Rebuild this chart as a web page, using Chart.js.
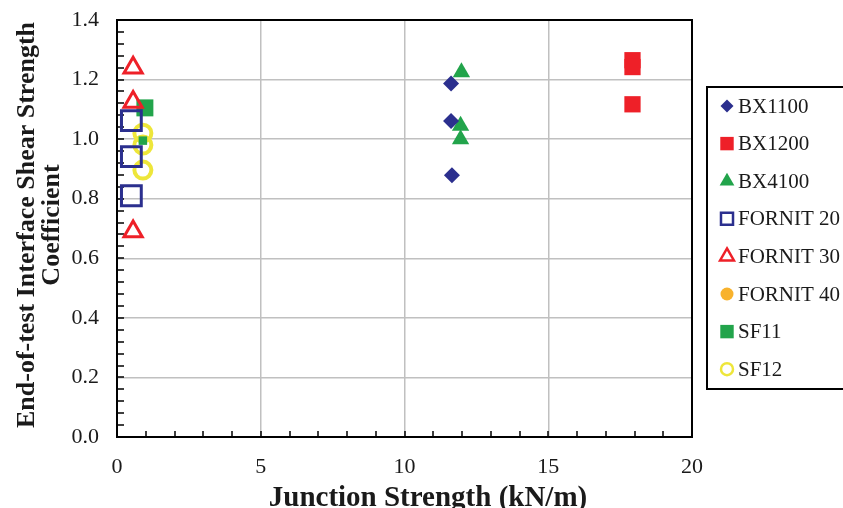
<!DOCTYPE html>
<html>
<head>
<meta charset="utf-8">
<script src="https://cdn.jsdelivr.net/npm/chart.js@4.4.1/dist/chart.umd.min.js"></script>
<style>
  html, body { margin: 0; padding: 0; background: #ffffff; }
  canvas { display: block; }
</style>
</head>
<body>
<canvas id="chart" width="843" height="508"></canvas>
<script>
// Junction strength (kN/m) vs end-of-test interface shear strength coefficient
const seriesNames = ['BX1100', 'BX1200', 'BX4100', 'FORNIT 20', 'FORNIT 30', 'FORNIT 40', 'SF11', 'SF12'];

const bx1100X = [11.62, 11.62, 11.65];
const bx1100Y = [1.187, 1.061, 0.879];

const bx1200X = [17.93, 17.93, 17.93];
const bx1200Y = [1.265, 1.242, 1.117];

const bx4100X = [11.98, 11.95, 11.95];
const bx4100Y = [1.225, 1.045, 1.0];

const fornit20X = [0.5, 0.5, 0.5];
const fornit20Y = [1.062, 0.941, 0.81];

const fornit30X = [0.56, 0.56, 0.56];
const fornit30Y = [1.24, 1.125, 0.69];

const fornit40X = [];
const fornit40Y = [];

const sf11X = [0.9, 0.97];
const sf11Y = [0.995, 1.105];

const sf12X = [0.9, 0.9, 0.9];
const sf12Y = [1.02, 0.98, 0.896];

const xTickLabels = ['0', '5', '10', '15', '20'];
const yTickLabels = ['0.0', '0.2', '0.4', '0.6', '0.8', '1.0', '1.2', '1.4'];

const NAVY = '#2B2F8E';
const RED = '#EE2028';
const GREEN = '#22A44B';
const ORANGE = '#F8B22C';
const YELLOW = '#EEE63A';
const SERIF = '"Liberation Serif", "Times New Roman", serif';

const pts = (xs, ys) => xs.map((x, i) => ({ x: x, y: ys[i] }));

// marker styles: plot size and legend size
const styles = [
  { style: 'rectRot',  fill: NAVY,   stroke: NAVY,   bw: 0,   r: 8,    lr: 6.5 },
  { style: 'rect',     fill: RED,    stroke: RED,    bw: 0,   r: 11.5, lr: 9.5 },
  { style: 'triangle', fill: GREEN,  stroke: GREEN,  bw: 0,   r: 10,   lr: 8.5 },
  { style: 'rect',     fill: 'rgba(0,0,0,0)', stroke: NAVY, bw: 3, r: 14, lr: 8.5, lbw: 2.5 },
  { style: 'triangle', fill: 'rgba(0,0,0,0)', stroke: RED,  bw: 3, r: 10.5, lr: 8, lbw: 2.5 },
  { style: 'circle',   fill: ORANGE, stroke: ORANGE, bw: 0,   r: 8,    lr: 6.5 },
  { style: 'rect',     fill: GREEN,  stroke: GREEN,  bw: 0,   r: (c) => (c.dataIndex === 0 ? 6 : 12), lr: 9.5 },
  { style: 'circle',   fill: 'rgba(0,0,0,0)', stroke: YELLOW, bw: 4, r: 8.5, lr: 6, lbw: 2.5 }
];

const seriesData = [
  pts(bx1100X, bx1100Y),
  pts(bx1200X, bx1200Y),
  pts(bx4100X, bx4100Y),
  pts(fornit20X, fornit20Y),
  pts(fornit30X, fornit30Y),
  pts(fornit40X, fornit40Y),
  pts(sf11X, sf11Y),
  pts(sf12X, sf12Y)
];

const datasets = seriesNames.map((name, i) => ({
  label: name,
  data: seriesData[i],
  pointStyle: styles[i].style,
  pointRadius: styles[i].r,
  pointHoverRadius: styles[i].r,
  backgroundColor: styles[i].fill,
  borderColor: styles[i].stroke,
  pointBorderWidth: styles[i].bw,
  borderWidth: styles[i].bw,
  showLine: false
}));

// inward minor/major tick marks on the left and bottom axes
const innerTicks = {
  id: 'innerTicks',
  beforeDatasetsDraw(chart) {
    const { ctx, chartArea: a, scales: { x, y } } = chart;
    ctx.save();
    ctx.strokeStyle = '#000';
    ctx.lineWidth = 1.5;
    ctx.beginPath();
    for (let v = 0; v <= 20; v += 1) {
      const px = Math.round(x.getPixelForValue(v));
      ctx.moveTo(px, a.bottom);
      ctx.lineTo(px, a.bottom - 6);
    }
    for (let k = 0; k <= 35; k++) {
      const py = Math.round(y.getPixelForValue(k * 0.04));
      ctx.moveTo(a.left, py);
      ctx.lineTo(a.left + 7, py);
    }
    ctx.stroke();
    ctx.restore();
  }
};

// frame, axis titles and boxed legend
const decorations = {
  id: 'decorations',
  afterDraw(chart) {
    const { ctx, chartArea: a } = chart;
    ctx.save();
    ctx.strokeStyle = '#000';
    ctx.lineWidth = 2;
    ctx.strokeRect(a.left, a.top, a.right - a.left, a.bottom - a.top);

    ctx.fillStyle = '#1a1a1a';
    ctx.font = 'bold 29px ' + SERIF;
    ctx.textAlign = 'center';
    ctx.textBaseline = 'alphabetic';
    ctx.fillText('Junction Strength (kN/m)', 428, 506);

    ctx.save();
    ctx.translate(0, 225);
    ctx.rotate(-Math.PI / 2);
    ctx.font = 'bold 26px ' + SERIF;
    ctx.fillText('End-of-test Interface Shear Strength', 0, 34);
    ctx.fillText('Coefficient', 0, 59);
    ctx.restore();

    // legend box
    ctx.lineWidth = 2;
    ctx.strokeRect(707, 87, 140, 302);
    ctx.font = '21px ' + SERIF;
    ctx.textAlign = 'left';
    ctx.textBaseline = 'middle';
    seriesNames.forEach((name, i) => {
      const s = styles[i];
      const yy = 106 + 37.6 * i;
      ctx.fillStyle = s.fill;
      ctx.strokeStyle = s.stroke;
      ctx.lineWidth = s.lbw || 0;
      Chart.helpers.drawPoint(ctx, { pointStyle: s.style, radius: s.lr, borderWidth: s.lbw || 0, rotation: 0 }, 727, yy);
      ctx.fillStyle = '#1a1a1a';
      ctx.fillText(name, 738, yy + 1);
    });
    ctx.restore();
  }
};

new Chart(document.getElementById('chart'), {
  type: 'scatter',
  data: { datasets: datasets },
  options: {
    responsive: false,
    animation: false,
    devicePixelRatio: 1,
    layout: { padding: { top: 20, right: 151, left: 0, bottom: 0 } },
    plugins: {
      legend: { display: false },
      tooltip: { enabled: false },
      title: { display: false }
    },
    scales: {
      x: {
        type: 'linear',
        min: 0, max: 20,
        afterFit(scale) { scale.height = 71; scale.paddingLeft = 0; scale.paddingRight = 0; },
        border: { display: false },
        grid: { color: '#C0C0C0', lineWidth: 1.5, drawTicks: false },
        ticks: {
          stepSize: 5,
          padding: 17,
          color: '#1a1a1a',
          font: { family: SERIF, size: 22 },
          callback: (v) => xTickLabels[xTickLabels.indexOf(String(v))] ?? ''
        }
      },
      y: {
        type: 'linear',
        min: 0, max: 1.4,
        afterFit(scale) { scale.width = 117; scale.paddingTop = 0; scale.paddingBottom = 0; },
        border: { display: false },
        grid: { color: '#C0C0C0', lineWidth: 1.5, drawTicks: false },
        ticks: {
          stepSize: 0.2,
          padding: 18,
          color: '#1a1a1a',
          font: { family: SERIF, size: 22 },
          callback: (v) => yTickLabels[Math.round(v / 0.2)]
        }
      }
    }
  },
  plugins: [innerTicks, decorations]
});
</script>
</body>
</html>
